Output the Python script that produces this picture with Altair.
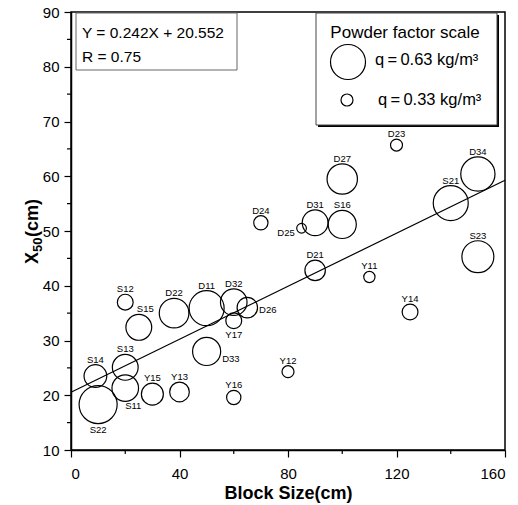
import altair as alt
import pandas as pd
import numpy as np

# ---- data ----
names = ["S22", "S14", "S13", "S11", "Y15", "Y13", "D33", "Y16", "Y12", "Y17",
         "S12", "S15", "D22", "D11", "D32", "D26", "D24", "D25", "D31", "S16",
         "D27", "D21", "Y11", "Y14", "D23", "S21", "D34", "S23"]
block_size = [10, 9, 20, 20, 30, 40, 50, 60, 80, 60,
              20, 25, 38, 50, 60, 65, 70, 85, 90, 100,
              100, 90, 110, 125, 120, 140, 150, 150]
x50 = [18.3, 23.5, 25.1, 21.3, 20.2, 20.6, 28.0, 19.6, 24.3, 33.6,
       37.0, 32.4, 35.0, 35.9, 37.0, 36.0, 51.5, 50.5, 51.5, 51.2,
       59.5, 42.8, 41.6, 35.2, 65.7, 55.1, 60.4, 45.3]
powder_q = [0.67, 0.47, 0.51, 0.52, 0.46, 0.43, 0.54, 0.36, 0.33, 0.38,
            0.38, 0.51, 0.56, 0.63, 0.52, 0.44, 0.36, 0.30, 0.51, 0.54,
            0.57, 0.44, 0.32, 0.38, 0.33, 0.63, 0.62, 0.59]
label_pos = ["bottom", "top", "top", "bottomright", "top", "top", "lowright", "top", "top", "bottom",
             "top", "topright", "top", "top", "top", "right", "top", "left", "top", "top",
             "top", "top", "top", "top", "top", "top", "top", "top"]

fit_slope, fit_intercept = 0.242, 20.552
fit_x = [0, 160]
legend_q = [0.63, 0.33]
x_major = [0, 40, 80, 120, 160]
x_minor = [20, 60, 100, 140]
y_major = [10, 20, 30, 40, 50, 60, 70, 80, 90]
y_minor = [15, 25, 35, 45, 55, 65, 75, 85]

# ---- layout ----
W, H = 434, 438
X_DOM, Y_DOM = [0, 160], [10, 90]
PX_X = W / (X_DOM[1] - X_DOM[0])
PX_Y = H / (Y_DOM[1] - Y_DOM[0])
FONT = "Liberation Sans"


def radius(q):
    return 38.33 * q - 6.65


df = pd.DataFrame(dict(name=names, x=block_size, y=x50, q=powder_q, pos=label_pos))
df["r"] = radius(df["q"])
df["size"] = (2 * df["r"]) ** 2

# label placement (pixel offsets converted to data units)
lx, ly, al = [], [], []
for _, row in df.iterrows():
    r = row["r"]
    p = row["pos"]
    dx, dy, a = 0.0, 0.0, "center"
    if p == "top":
        dy = -(r + 5)
    elif p == "bottom":
        dy = r + 6.5
    elif p == "bottomright":
        dx, dy = 8, r + 5
    elif p == "topright":
        dx, dy = 6.5, -(r + 5)
    elif p == "right":
        dx, dy, a = r + 1.5, 2, "left"
    elif p == "lowright":
        dx, dy, a = r + 1.5, 8, "left"
    elif p == "left":
        dx, dy, a = -(r + 2), 5, "right"
    lx.append(row["x"] + dx / PX_X)
    ly.append(row["y"] - dy / PX_Y)
    al.append(a)
df["lx"], df["ly"], df["align"] = lx, ly, al

xs = alt.Scale(domain=X_DOM, nice=False, zero=False)
ys = alt.Scale(domain=Y_DOM, nice=False, zero=False)
x_axis = alt.Axis(values=x_major, tickSize=7, labelPadding=9, labelFontSize=15,
                  titleFontSize=18, titleFontWeight="bold",
                  titleBaseline="middle", titleY=43)
y_axis = alt.Axis(values=y_major, tickSize=7, labelPadding=5, labelFontSize=15)
X_TITLE = "Block Size(cm)"


def X(field):
    return alt.X(field, scale=xs, axis=x_axis, title=X_TITLE)


def Y(field):
    return alt.Y(field, scale=ys, axis=y_axis, title=None)


base = alt.Chart(df)

points = base.mark_point(shape="circle", filled=False, color="black", strokeWidth=1.2, opacity=1).encode(
    x=X("x:Q"), y=Y("y:Q"),
    size=alt.Size("size:Q", scale=None),
)

fit_df = pd.DataFrame({"x": fit_x, "y": [fit_slope * v + fit_intercept for v in fit_x]})
fit_line = alt.Chart(fit_df).mark_line(color="black", strokeWidth=1.2).encode(
    x=X("x:Q"), y=Y("y:Q")
)

labels = []
for a in ["center", "left", "right"]:
    labels.append(
        base.transform_filter(alt.datum.align == a).mark_text(
            align=a, baseline="middle", font=FONT, fontSize=9.5, color="black"
        ).encode(
            x=X("lx:Q"), y=Y("ly:Q"), text="name:N",
        )
    )

xminor = alt.Chart(pd.DataFrame({"x": x_minor})).mark_rule(color="black", strokeWidth=1.2).encode(
    x=X("x:Q"), y=alt.value(H), y2=alt.value(H + 4)
)
yminor = alt.Chart(pd.DataFrame({"y": y_minor})).mark_rule(color="black", strokeWidth=1.2).encode(
    y=Y("y:Q"), x=alt.value(-4), x2=alt.value(0)
)

one = pd.DataFrame({"k": [0]})
deco = alt.Chart(one)

# y-axis title with a real subscript: X 50 (cm), rotated
yt_x = deco.mark_text(align="left", baseline="middle", angle=270, font=FONT, fontSize=18,
                      fontWeight="bold", color="black").encode(
    x=alt.value(-38), y=alt.value(252), text=alt.value("X"))
yt_sub = deco.mark_text(align="left", baseline="middle", angle=270, font=FONT, fontSize=13,
                        fontWeight="bold", color="black").encode(
    x=alt.value(-33), y=alt.value(240), text=alt.value("50"))
yt_cm = deco.mark_text(align="left", baseline="middle", angle=270, font=FONT, fontSize=18,
                       fontWeight="bold", color="black").encode(
    x=alt.value(-38), y=alt.value(225), text=alt.value("(cm)"))

eq_box = deco.mark_rect(fill="white", stroke="#666", strokeWidth=1).encode(
    x=alt.value(5), x2=alt.value(166), y=alt.value(1), y2=alt.value(58)
)
eq_t1 = deco.mark_text(align="left", baseline="middle", font=FONT, fontSize=15.5, color="black").encode(
    x=alt.value(11), y=alt.value(21), text=alt.value("Y = 0.242X + 20.552")
)
eq_t2 = deco.mark_text(align="left", baseline="middle", font=FONT, fontSize=15.5, color="black").encode(
    x=alt.value(11), y=alt.value(45), text=alt.value("R = 0.75")
)

lg_shadow = deco.mark_rect(fill="black").encode(
    x=alt.value(247), x2=alt.value(428), y=alt.value(3), y2=alt.value(115)
)
lg_box = deco.mark_rect(fill="white", stroke="#444", strokeWidth=1).encode(
    x=alt.value(245), x2=alt.value(426), y=alt.value(1), y2=alt.value(113)
)
lg_title = deco.mark_text(align="center", baseline="middle", font=FONT, fontSize=17, color="black").encode(
    x=alt.value(334), y=alt.value(21), text=alt.value("Powder factor scale")
)
lg_c1 = deco.mark_point(shape="circle", filled=False, color="black", strokeWidth=1.2, opacity=1).encode(
    x=alt.value(277), y=alt.value(50), size=alt.value((2 * radius(legend_q[0])) ** 2)
)
lg_c2 = deco.mark_point(shape="circle", filled=False, color="black", strokeWidth=1.2, opacity=1).encode(
    x=alt.value(276), y=alt.value(88), size=alt.value((2 * radius(legend_q[1])) ** 2)
)
lg_t1 = deco.mark_text(align="left", baseline="middle", font=FONT, fontSize=16.5, color="black").encode(
    x=alt.value(304), y=alt.value(48), text=alt.value(f"q\u2009=\u2009{legend_q[0]:.2f} kg/m³")
)
lg_t2 = deco.mark_text(align="left", baseline="middle", font=FONT, fontSize=16.5, color="black").encode(
    x=alt.value(307), y=alt.value(88), text=alt.value(f"q\u2009=\u2009{legend_q[1]:.2f} kg/m³")
)

chart = alt.layer(
    points, fit_line, *labels, xminor, yminor, yt_x, yt_sub, yt_cm,
    eq_box, eq_t1, eq_t2, lg_shadow, lg_box, lg_title, lg_c1, lg_c2, lg_t1, lg_t2
).properties(
    width=W, height=H,
    padding={"left": 71, "top": 12, "right": 13, "bottom": 55},
    autosize=alt.AutoSizeParams(type="none"),
).configure_view(
    stroke="black", strokeWidth=1.5
).configure_axis(
    domainColor="black", domainWidth=1.5, tickColor="black", tickWidth=1.2,
    labelColor="black", titleColor="black", grid=False,
    labelFont=FONT, titleFont=FONT,
)

chart.save("out.html", embed_options={"renderer": "svg", "actions": False})
